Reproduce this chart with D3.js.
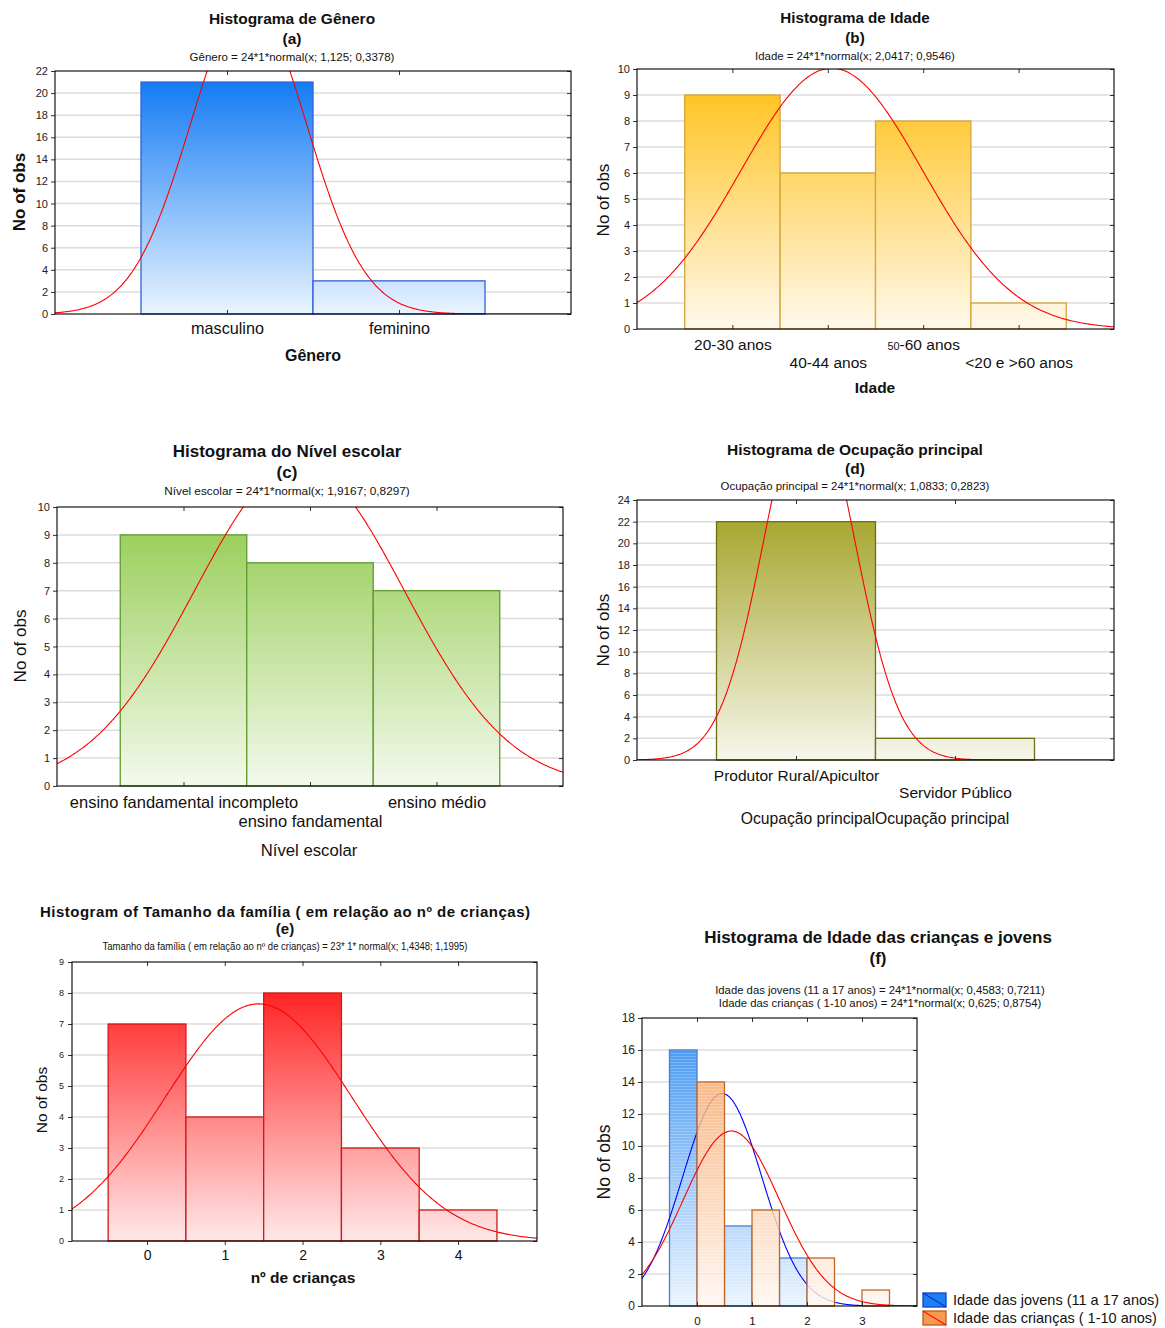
<!DOCTYPE html>
<html>
<head>
<meta charset="utf-8">
<script src="https://cdn.jsdelivr.net/npm/d3@7"></script>
<style>
  body { margin: 0; background: #fff; }
  svg { display: block; font-family: "Liberation Sans", Arial, sans-serif; }
</style>
</head>
<body>
<svg id="chart" width="1165" height="1328"></svg>
<script>
// ---- data ----
const generoCats = ["masculino", "feminino"];
const generoCounts = [21, 3];
const generoFit = [24, 1.125, 0.3378];

const idadeCats = ["20-30 anos", "40-44 anos", "50-60 anos", "<20 e >60 anos"];
const idadeCounts = [9, 6, 8, 1];
const idadeFit = [24, 2.0417, 0.9546];

const escolarCats = ["ensino fandamental incompleto", "ensino fandamental", "ensino médio"];
const escolarCounts = [9, 8, 7];
const escolarFit = [24, 1.9167, 0.8297];

const ocupacaoCats = ["Produtor Rural/Apicultor", "Servidor Público"];
const ocupacaoCounts = [22, 2];
const ocupacaoFit = [24, 1.0833, 0.2823];

const criancasTicks = [0, 1, 2, 3, 4];
const criancasCounts = [7, 4, 8, 3, 1];
const criancasFit = [23, 1.4348, 1.1995];

const idadeFTicks = [0, 1, 2, 3];
const jovensCounts = [16, 5, 3, 0];
const jovensFit = [24, 0.4583, 0.7211];
const criancasIdadeCounts = [14, 6, 3, 1];
const criancasIdadeFit = [24, 0.625, 0.8754];

const FONT = '"Liberation Sans", Arial, sans-serif';

const svg = d3.select('#chart');
const defs = svg.append('defs');

// stripes for panel f bars
const stripes = defs.append('pattern').attr('id', 'stripes')
  .attr('patternUnits', 'userSpaceOnUse').attr('width', 6).attr('height', 3);
stripes.append('rect').attr('width', 6).attr('height', 1).attr('fill', '#ffffff').attr('opacity', 0.22);

function normal(fit, v) {
  const [n, m, s] = fit;
  return n / (s * Math.sqrt(2 * Math.PI)) * Math.exp(-0.5 * ((v - m) / s) ** 2);
}

function txt(str, x, y, size, opts) {
  opts = opts || {};
  const t = svg.append('text')
    .attr('x', x).attr('y', y)
    .attr('text-anchor', opts.anchor || 'middle')
    .attr('font-family', FONT)
    .attr('font-size', size)
    .attr('font-weight', opts.bold ? 'bold' : 'normal')
    .attr('fill', '#111')
    .text(str);
  if (opts.rotate) t.attr('transform', `rotate(-90, ${x}, ${y})`);
  if (opts.len) t.attr('textLength', opts.len).attr('lengthAdjust', opts.adjust || 'spacing');
  return t;
}

function drawPanel(p) {
  const [L, T, R, B] = p.box;
  const x = d3.scaleLinear().domain(p.xDomain).range([L, R]);
  const y = d3.scaleLinear().domain([0, p.yMax]).range([B, T]);
  const g = svg.append('g');
  const yTicks = d3.range(0, p.yMax + p.yStep / 2, p.yStep);

  defs.append('clipPath').attr('id', 'clip-' + p.id)
    .append('rect').attr('x', L).attr('y', T).attr('width', R - L).attr('height', B - T);

  // grid
  g.append('g').selectAll('line').data(yTicks.slice(1, -1)).join('line')
    .attr('x1', L).attr('x2', R)
    .attr('y1', d => y(d)).attr('y2', d => y(d))
    .attr('stroke', '#dcdcdc').attr('stroke-width', 1.5);

  // bars, each series followed by its fitted normal curve
  p.series.forEach((s, k) => {
    const gid = 'grad-' + p.id + k;
    const lg = defs.append('linearGradient').attr('id', gid)
      .attr('gradientUnits', 'userSpaceOnUse')
      .attr('x1', 0).attr('x2', 0).attr('y1', T).attr('y2', B);
    lg.append('stop').attr('offset', 0).attr('stop-color', s.fill[0]);
    lg.append('stop').attr('offset', 1).attr('stop-color', s.fill[1]);

    const data = s.counts.map((v, i) => ({ v: v, c: p.centers[i] })).filter(d => d.v > 0);
    const bars = g.append('g').selectAll('g').data(data).join('g');
    const place = sel => sel
      .attr('x', d => x(d.c + s.span[0]))
      .attr('width', d => x(d.c + s.span[1]) - x(d.c + s.span[0]))
      .attr('y', d => y(d.v))
      .attr('height', d => y(0) - y(d.v));
    bars.append('rect').call(place)
      .attr('fill', `url(#${gid})`).attr('fill-opacity', s.opacity || 1);
    if (s.striped) bars.append('rect').call(place).attr('fill', 'url(#stripes)');
    bars.append('rect').call(place)
      .attr('fill', 'none').attr('stroke', s.stroke).attr('stroke-width', 1.3);

    const step = (p.xDomain[1] - p.xDomain[0]) / 400;
    const pts = d3.range(p.xDomain[0], p.xDomain[1] + step / 2, step);
    g.append('path').datum(pts)
      .attr('clip-path', `url(#clip-${p.id})`)
      .attr('d', d3.line().x(v => x(v)).y(v => y(normal(s.fit, v))))
      .attr('fill', 'none').attr('stroke', s.curve).attr('stroke-width', 1.1);
  });

  // axes
  const ay = g.append('g').attr('transform', `translate(${L},0)`)
    .call(d3.axisLeft(y).tickValues(yTicks).tickSize(4).tickSizeOuter(0).tickPadding(p.yPad));
  ay.selectAll('text').attr('font-size', p.yTickSize).attr('font-family', FONT).attr('fill', '#222');

  const ar = g.append('g').attr('transform', `translate(${R},0)`)
    .call(d3.axisRight(y).tickValues(yTicks).tickSize(-4).tickSizeOuter(0).tickFormat(''));

  const at = g.append('g').attr('transform', `translate(0,${T})`)
    .call(d3.axisTop(x).tickValues(p.centers).tickSize(-4).tickSizeOuter(0).tickFormat(''));

  const ab = g.append('g').attr('transform', `translate(0,${B})`)
    .call(d3.axisBottom(x).tickValues(p.centers).tickSize(p.xTickDir * 4).tickSizeOuter(0)
      .tickFormat((d, i) => p.labels[i]));
  ab.selectAll('text')
    .attr('font-size', p.xTickSize).attr('font-family', FONT).attr('fill', '#111')
    .attr('dy', 0)
    .attr('y', (d, i) => p.labelRows[i % p.labelRows.length])
    .each(function (d, i) {
      const label = p.labels[i];
      if (label.startsWith('50-')) {
        const t = d3.select(this).text('');
        t.append('tspan').attr('font-size', p.xTickSize * 0.7).text('50');
        t.append('tspan').text(label.slice(2));
      }
    });

  [ay, ar, at, ab].forEach(a => {
    a.select('.domain').remove();
    a.selectAll('line').attr('stroke', '#333');
  });

  g.append('rect').attr('x', L).attr('y', T).attr('width', R - L).attr('height', B - T)
    .attr('fill', 'none').attr('stroke', '#000').attr('stroke-width', 1.1);
}

const panels = [
  {
    id: 'a', box: [55, 71, 571, 314], xDomain: [0, 3], yMax: 22, yStep: 2,
    centers: generoCats.map((c, i) => i + 1), labels: generoCats, labelRows: [20],
    series: [{ counts: generoCounts, span: [-0.5, 0.5], fill: ['#0a76f4', '#eaf4ff'], stroke: '#2f62d4',
               fit: generoFit, curve: '#ff0000' }],
    yTickSize: 11, xTickSize: 16.2, yPad: 3, xTickDir: -1
  },
  {
    id: 'b', box: [637, 69, 1114, 329], xDomain: [0, 5], yMax: 10, yStep: 1,
    centers: idadeCats.map((c, i) => i + 1), labels: idadeCats, labelRows: [21, 39],
    series: [{ counts: idadeCounts, span: [-0.5, 0.5], fill: ['#ffbf10', '#fff9ec'], stroke: '#d6a43a',
               fit: idadeFit, curve: '#ff0000' }],
    yTickSize: 11, xTickSize: 15.5, yPad: 3, xTickDir: -1
  },
  {
    id: 'c', box: [57, 507, 563, 786], xDomain: [0, 4], yMax: 10, yStep: 1,
    centers: escolarCats.map((c, i) => i + 1), labels: escolarCats, labelRows: [22, 41],
    series: [{ counts: escolarCounts, span: [-0.5, 0.5], fill: ['#92cb4e', '#f3f9ec'], stroke: '#5e9c2e',
               fit: escolarFit, curve: '#ff0000' }],
    yTickSize: 11, xTickSize: 16.5, yPad: 3, xTickDir: -1
  },
  {
    id: 'd', box: [637, 500, 1114, 760], xDomain: [0, 3], yMax: 24, yStep: 2,
    centers: ocupacaoCats.map((c, i) => i + 1), labels: ocupacaoCats, labelRows: [21, 38],
    series: [{ counts: ocupacaoCounts, span: [-0.5, 0.5], fill: ['#a0a020', '#f6f6ec'], stroke: '#6e6e14',
               fit: ocupacaoFit, curve: '#ff0000' }],
    yTickSize: 11, xTickSize: 15.5, yPad: 3, xTickDir: -1
  },
  {
    id: 'e', box: [72, 962, 537, 1241], xDomain: [-0.965, 5.015], yMax: 9, yStep: 1,
    centers: criancasTicks, labels: criancasTicks.map(String), labelRows: [19],
    series: [{ counts: criancasCounts, span: [-0.5, 0.5], fill: ['#ff0c0c', '#ffe9e9'], stroke: '#d01818',
               fit: criancasFit, curve: '#ff0000' }],
    yTickSize: 9, xTickSize: 14, yPad: 4, xTickDir: 1
  },
  {
    id: 'f', box: [642, 1018, 917, 1306], xDomain: [-1, 4], yMax: 18, yStep: 2,
    centers: idadeFTicks, labels: idadeFTicks.map(String), labelRows: [19],
    series: [
      { counts: jovensCounts, span: [-0.5, 0], fill: ['#3a92f2', '#eaf4ff'], stroke: '#4a7ed2', striped: true,
        fit: jovensFit, curve: '#0000ff' },
      { counts: criancasIdadeCounts, span: [0, 0.5], fill: ['#f4964a', '#fff5ee'], stroke: '#c0682c', striped: true,
        opacity: 0.82, fit: criancasIdadeFit, curve: '#ff0000' }
    ],
    yTickSize: 12, xTickSize: 11.5, yPad: 3, xTickDir: -1
  }
];

panels.forEach(drawPanel);

// ---- titles and axis titles ----
// (a)
txt('Histograma de Gênero', 292, 24, 15.5, { bold: true });
txt('(a)', 292, 44, 15.5, { bold: true });
txt('Gênero = 24*1*normal(x; 1,125; 0,3378)', 292, 61, 11.5);
txt('No of obs', 25, 192, 17, { bold: true, rotate: true });
txt('Gênero', 313, 361, 16, { bold: true });

// (b)
txt('Histograma de Idade', 855, 23, 15.2, { bold: true });
txt('(b)', 855, 43, 15.2, { bold: true });
txt('Idade = 24*1*normal(x; 2,0417; 0,9546)', 855, 60, 11.4);
txt('No of obs', 609, 200, 17, { rotate: true });
txt('Idade', 875, 393, 15.5, { bold: true });

// (c)
txt('Histograma do Nível escolar', 287, 457, 17, { bold: true });
txt('(c)', 287, 478, 17, { bold: true });
txt('Nível escolar = 24*1*normal(x; 1,9167; 0,8297)', 287, 495, 11.8);
txt('No of obs', 26, 646, 17, { rotate: true });
txt('Nível escolar', 309, 856, 16.7);

// (d)
txt('Histograma de Ocupação principal', 855, 455, 15.5, { bold: true });
txt('(d)', 855, 474, 15.5, { bold: true });
txt('Ocupação principal = 24*1*normal(x; 1,0833; 0,2823)', 855, 490, 11.4);
txt('No of obs', 609, 630, 17, { rotate: true });
txt('Ocupação principalOcupação principal', 875, 824, 15.7);

// (e)
txt('Histogram of Tamanho da família ( em relação ao nº de crianças)', 285, 917, 15, { bold: true, len: 490 });
txt('(e)', 285, 934, 15, { bold: true });
txt('Tamanho da família ( em relação ao nº de crianças) = 23* 1* normal(x; 1,4348; 1,1995)', 285, 950, 10,
  { len: 365, adjust: 'spacingAndGlyphs' });
txt('No of obs', 47, 1100, 15.5, { rotate: true });
txt('nº de crianças', 303, 1283, 15.5, { bold: true });

// (f)
txt('Histograma de Idade das crianças e jovens', 878, 943, 17, { bold: true });
txt('(f)', 878, 964, 17, { bold: true });
txt('Idade das jovens (11 a 17 anos) = 24*1*normal(x; 0,4583; 0,7211)', 880, 994, 11.3);
txt('Idade das crianças ( 1-10 anos) = 24*1*normal(x; 0,625; 0,8754)', 880, 1007, 11.3);
txt('No of obs', 610, 1162, 17.5, { rotate: true });

// legend (f)
const legendItems = [
  { label: 'Idade das jovens (11 a 17 anos)', fill: '#1a80f4', stroke: '#1a3fc0', line: '#1030c8' },
  { label: 'Idade das crianças ( 1-10 anos)', fill: '#f59a50', stroke: '#c05a18', line: '#ff1010' }
];
const lg = svg.append('g');
legendItems.forEach((d, i) => {
  const y0 = 1293 + i * 18;
  lg.append('rect').attr('x', 923).attr('y', y0).attr('width', 23).attr('height', 14)
    .attr('fill', d.fill).attr('stroke', d.stroke).attr('stroke-width', 1.3);
  lg.append('line').attr('x1', 923).attr('y1', y0).attr('x2', 946).attr('y2', y0 + 14)
    .attr('stroke', d.line).attr('stroke-width', 1.2);
  txt(d.label, 953, y0 + 12, 14.5, { anchor: 'start' });
});
</script>
</body>
</html>
